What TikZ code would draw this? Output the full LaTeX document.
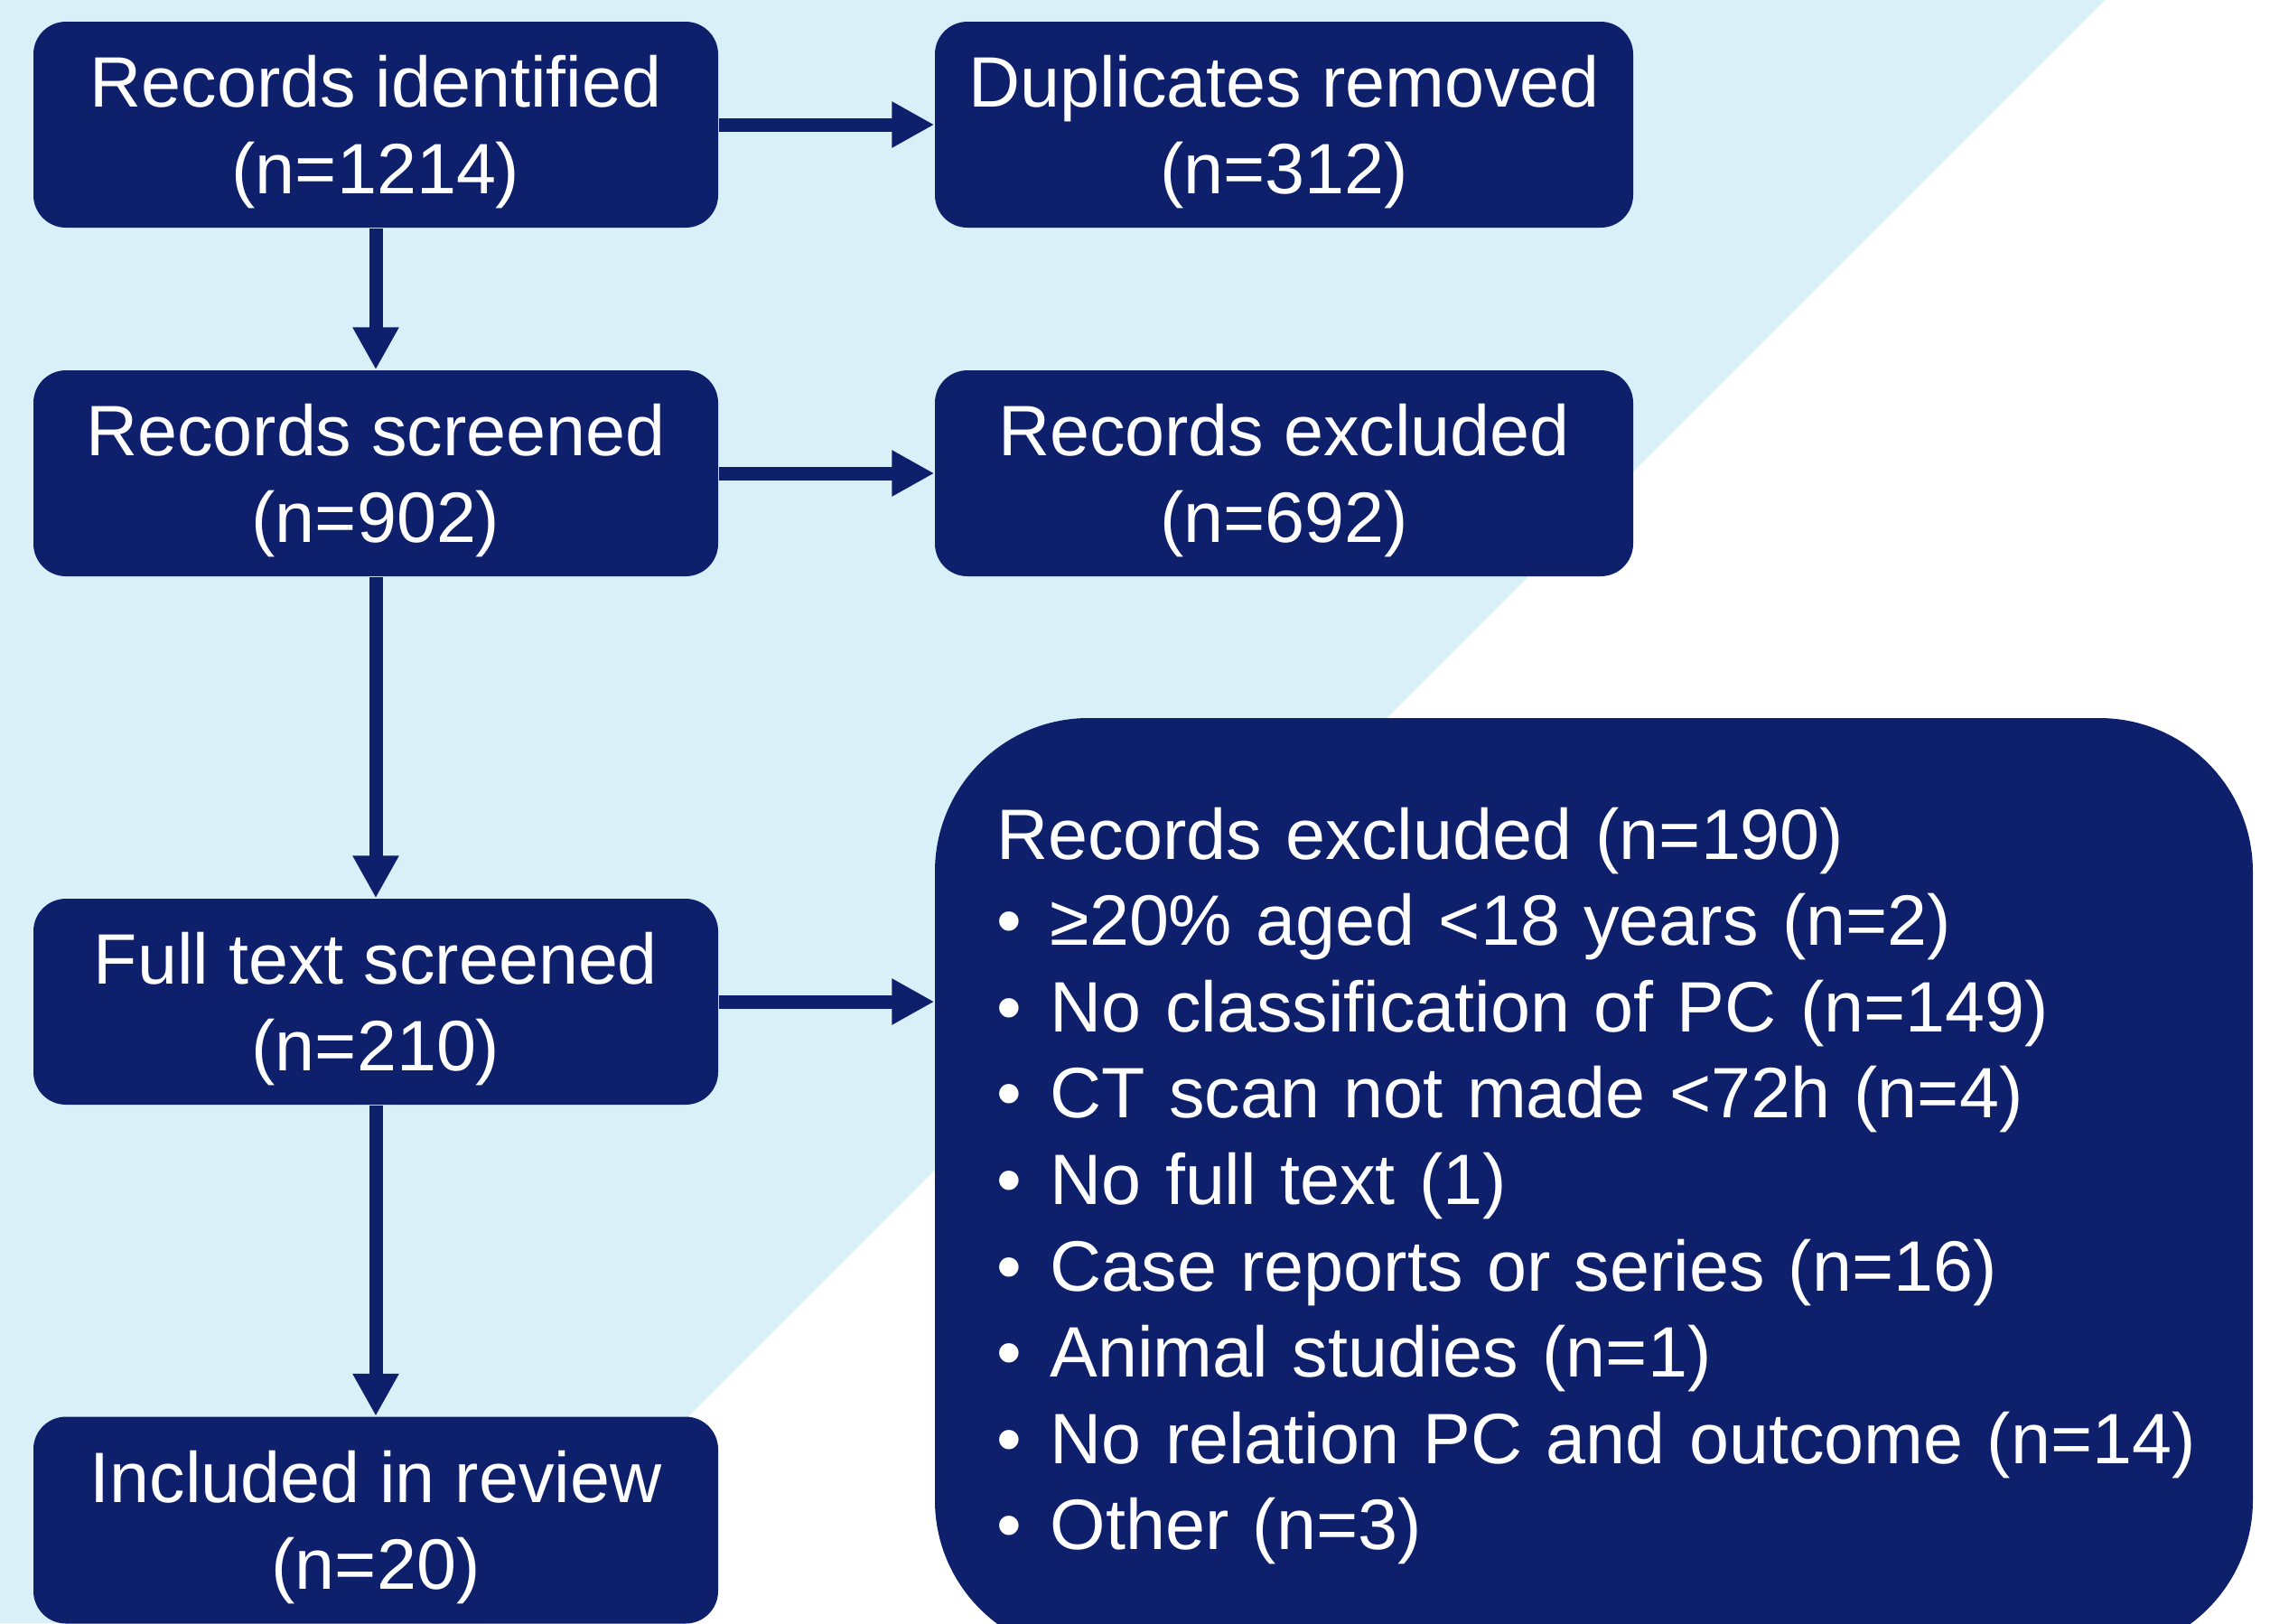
\documentclass[tikz,border=0pt]{standalone}
\usepackage{fontspec}
\setmainfont{Liberation Sans}
\usetikzlibrary{arrows.meta}
\definecolor{navy}{RGB}{14,31,107}
\definecolor{paleblue}{RGB}{218,240,248}
\newcommand{\bul}[1]{\mbox{\textbullet\hspace{0.32cm}#1}}
\begin{document}
\begin{tikzpicture}[
  box/.style={fill=navy, text=white, rounded corners=0.36cm, align=center,
    minimum width=7.58cm, minimum height=2.28cm, inner sep=0pt, text depth=0pt,
    font=\fontsize{22.5}{27.3}\selectfont},
  bigbox/.style={fill=navy, text=white, rounded corners=1.7cm, align=left,
    text width=13.23cm, inner xsep=0.68cm, inner ysep=0pt, minimum height=10.36cm,
    font=\fontsize{22.5}{27.2}\selectfont},
  arr/.style={navy, line width=0.15cm, -{Triangle[length=0.47cm,width=0.48cm]}}]
\useasboundingbox (0,0) rectangle (25.13,-17.97);
\fill[paleblue] (0,0) -- (23.30,0) -- (5.33,-17.97) -- (0,-17.97) -- cycle;
\node[box] (ident) at (4.16,-1.38) {Records identified\\(n=1214)};
\node[box, minimum width=7.73cm] (dup) at (14.215,-1.38) {Duplicates removed\\(n=312)};
\node[box] (screen) at (4.16,-5.24) {Records screened\\(n=902)};
\node[box, minimum width=7.73cm] (exclA) at (14.215,-5.24) {Records excluded\\(n=692)};
\node[box] (full) at (4.16,-11.09) {Full text screened\\(n=210)};
\node[box, minimum height=2.29cm] (incl) at (4.16,-16.83) {Included in review\\(n=20)};
\node[bigbox] (exclB) at (17.645,-13.13) {Records excluded (n=190)\\
  \bul{≥20\% aged <18 years (n=2)}\\
  \bul{No classification of PC (n=149)}\\
  \bul{CT scan not made <72h (n=4)}\\
  \bul{No full text (1)}\\
  \bul{Case reports or series (n=16)}\\
  \bul{Animal studies (n=1)}\\
  \bul{No relation PC and outcome (n=14)}\\
  \bul{Other (n=3)}};
\draw[arr] (ident.east) -- (dup.west);
\draw[arr] (screen.east) -- (exclA.west);
\draw[arr] (full.east) -- (full.east -| exclB.west);
\draw[arr] (ident.south) -- (screen.north);
\draw[arr] (screen.south) -- (full.north);
\draw[arr] (full.south) -- (incl.north);
\end{tikzpicture}
\end{document}
